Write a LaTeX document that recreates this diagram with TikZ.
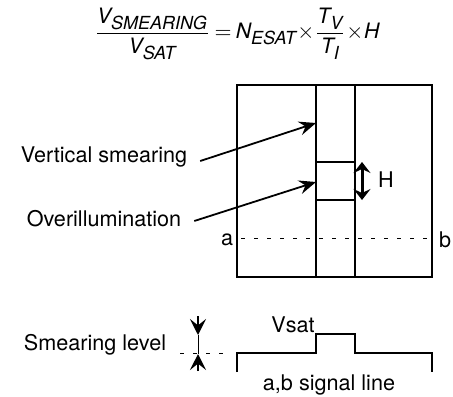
\documentclass[tikz,border=0pt]{standalone}
\usepackage{amsmath}
\usepackage{fontspec}
\setmainfont{TeX Gyre Heros}
\usetikzlibrary{arrows.meta}
\newcommand{\smsub}[1]{_{\text{\fontsize{9}{10}\selectfont\itshape #1}}}

\begin{document}
\begin{tikzpicture}[x=0.5pt,y=-0.5pt,font=\fontsize{10.8}{12}\selectfont,
  frameline/.style={line width=1.1pt},
  dotline/.style={line width=0.45pt,dash pattern=on 2pt off 4.5pt},
  pointer/.style={line width=0.9pt,-{Stealth[length=8.5pt,width=7pt,inset=3pt]}}]
\useasboundingbox (0,0) rectangle (453,396);
\node (formula) at (237,34) {\fontsize{10.6}{13}\selectfont
  \medmuskip=0.5mu\thickmuskip=3.5mu
  $\dfrac{\textit{V}\smsub{SMEARING}}{\textit{V}\smsub{SAT}}=\textit{N}\smsub{ESAT}\times\dfrac{\textit{T}\smsub{V}}{\textit{T}\smsub{I}}\times\textit{H}$};
\draw[frameline] (237,85) rectangle (432,277);
\draw[frameline] (316,85) -- (316,277);
\draw[frameline] (355,85) -- (355,277);
\draw[frameline] (316,162) -- (355,162);
\draw[frameline] (316,200) -- (355,200);
\draw[dotline] (241,238) -- (428,238);
\node (lbla) at (227,240) {a};
\node (lblb) at (445,240) {b};
\coordinate (htop) at (362,162);
\coordinate (hbot) at (362,200);
\draw[line width=1.5pt,{Stealth[length=5.5pt,width=8.5pt,inset=2pt]}-{Stealth[length=5.5pt,width=8.5pt,inset=2pt]}] (htop) -- (hbot);
\node (lblH) at (386,180) {H};
\node (vsm) at (104,157) {Vertical smearing};
\node (ovl) at (104,219) {Overillumination};
\coordinate (vsmtip) at (316,123);
\coordinate (ovltip) at (316,182);
\draw[pointer] (vsm.east) ++(6,4) -- (vsmtip);
\draw[pointer] (ovl.east) ++(6,2) -- (ovltip);
\draw[frameline] (237,372) -- (237,353) -- (316,353) -- (316,334) -- (355,334) -- (355,353) -- (432,353) -- (432,372);
\node (vsat) at (293,325) {Vsat};
\node (sigline) at (329,385) {a,b signal line};
\node (smlvl) at (95,345) {Smearing level};
\coordinate (smtop) at (198,316);
\coordinate (smupper) at (198,335);
\coordinate (smlower) at (198,354);
\coordinate (smbot) at (198,371);
\draw[line width=0.9pt,-{Stealth[length=8pt,width=8pt,inset=3.2pt]}] (smtop) -- (smupper);
\draw[line width=0.9pt,-{Stealth[length=8pt,width=8pt,inset=3.2pt]}] (smbot) -- (smlower);
\draw[line width=0.4pt] (smupper) -- (smlower);
\draw[dotline] (180,353) -- (232,353);
\end{tikzpicture}
\end{document}
